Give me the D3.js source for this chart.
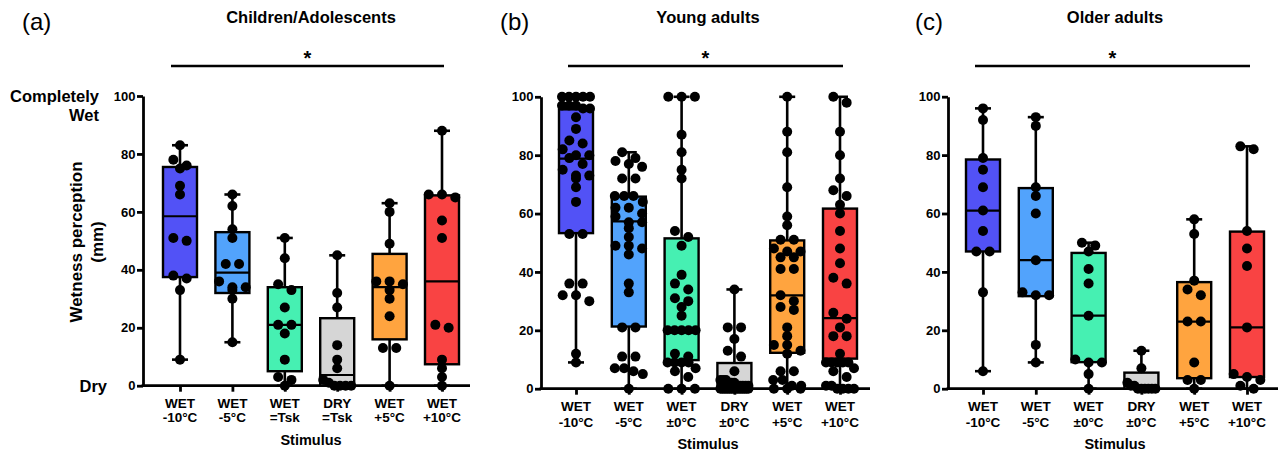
<!DOCTYPE html>
<html><head><meta charset="utf-8">
<script src="https://cdn.jsdelivr.net/npm/d3@7"></script>
<style>
body{margin:0;background:#fff}
svg{display:block}
text{font-family:"Liberation Sans",Arial,Helvetica,sans-serif}
</style>
</head><body>
<svg id="chart" width="1282" height="454"></svg>
<script>
// ---------------- DATA ----------------
const catTopA = ["WET","WET","WET","DRY","WET","WET"];
const catBottomA = ["-10°C","-5°C","=Tsk","=Tsk","+5°C","+10°C"];
const catTopBC = ["WET","WET","WET","DRY","WET","WET"];
const catBottomBC = ["-10°C","-5°C","±0°C","±0°C","+5°C","+10°C"];
const yTickValues = [0,20,40,60,80,100];
const boxColors = ["#5252f6","#52a3fc","#46f0b2","#d6d6d6","#ffa43f","#f94343"];
const panelTitles = ["Children/Adolescents","Young adults","Older adults"];
const panelLetters = ["(a)","(b)","(c)"];

// individual responses (mm)
const childrenValues = [
  [83,78,76,75,69,66,51,50,38,37,33,9],
  [66,62,54,51,42,42,36,34,34,33,30,15],
  [51,44,35,33,27,21,21,18,9,3,2,0],
  [45,32,27,14,9,6,2,1,0,0,0,0],
  [63,60,49,36,36,35,33,30,24,13,13,0],
  [88,66,66,65,57,51,21,20,9,6,3,0]
];
// [Q1, median, Q3]
const childrenBoxes = [[37.5,58.5,75.5],[32,39,53],[5,21,34],[0,3.7,23.3],[16,34,45.5],[7.4,36,65.7]];

const youngValues = [
  [100,100,100,100,100,97,97,97,96,96,93,89,85,84,82,80,80,79,77,75,73,73,72,69,64,53,53,36,36,32,32,30,12,9],
  [81,79,78,77,76,72,72,66,66,66,64,62,62,60,59,57,57,55,52,49,49,48,46,36,33,21,21,11,11,7,7,6,5,0],
  [100,100,100,87,81,75,72,54,52,49,39,36,34,31,30,28,25,20,20,20,20,20,12,11,9,9,9,9,7,6,4,0,0,0],
  [34,21,21,17,13,11,6,3,3,3,2,2,2,1,1,1,1,1,0,0,0,0,0,0,0,0,0,0,0,0,0,0,0,0],
  [100,88,81,69,59,56,51,51,48,47,47,45,45,41,41,32,30,28,27,21,18,15,15,13,12,6,6,3,3,1,1,0,0,0],
  [100,98,88,80,72,68,66,63,60,54,48,43,38,36,26,24,21,18,18,12,9,9,9,9,9,7,6,4,1,1,0,0,0,0]
];
const youngBoxes = [[53.3,78.8,95.7],[21.3,57.3,65.8],[9.8,20,51.5],[0,1,8.8],[12.3,32,50.8],[10.3,24.2,61.7]];

const olderValues = [
  [96,92,79,75,69,61,54,47,47,33,6],
  [93,90,69,66,60,44,33,32,32,15,9],
  [50,49,47,41,36,25,10,9,9,5,0],
  [13,7,2,1,1,0,0,0,0,0,0],
  [58,53,37,34,32,23,23,9,3,3,0],
  [83,82,54,48,42,21,5,4,3,1,0]
];
const olderBoxes = [[47,61,78.5],[31.7,44,68.7],[9.1,25,46.5],[0,1,5.5],[3.6,23,36.5],[4,21,53.8]];

// ---------------- LAYOUT ----------------
const layout = [
  {axisX:143, axisEnd:470, firstX:180, lastX:442, yTop:96,   yBot:385.7, letterX:22,  sigX0:171, sigX1:444, l1:22, l2:36.5, stim:59.5},
  {axisX:541, axisEnd:870, firstX:576, lastX:840, yTop:96.8, yBot:388.7, letterX:500, sigX0:568, sigX1:843, l1:22, l2:38, stim:60.5},
  {axisX:948, axisEnd:1278,firstX:983, lastX:1247,yTop:96.7, yBot:388.7, letterX:915, sigX0:975, sigX1:1250,l1:22, l2:38, stim:60.5}
];
const panelsData = [
  {values:childrenValues, boxes:childrenBoxes, top:catTopA, bottom:catBottomA},
  {values:youngValues, boxes:youngBoxes, top:catTopBC, bottom:catBottomBC},
  {values:olderValues, boxes:olderBoxes, top:catTopBC, bottom:catBottomBC}
];

const svg = d3.select("#chart");
svg.append("rect").attr("width",1282).attr("height",454).attr("fill","#fff");

const R = 5, BOXW = 34, CAPW = 16, AXW = 2.8;

function dotLayout(vals, y, cx){
  const sorted = vals.slice().sort((a,b)=>b-a);
  const rows = [];
  sorted.forEach(v=>{
    const py = y(v);
    const last = rows[rows.length-1];
    if(last && py - last.y0 < 8) last.items.push(v);
    else rows.push({y0:py, items:[v]});
  });
  const out = [];
  rows.forEach(r=>{
    const n = r.items.length;
    const step = n <= 3 ? 13.3 : 28/(n-1);
    r.items.forEach((v,i)=>out.push({x: cx + (i-(n-1)/2)*step, y: y(v)}));
  });
  return out;
}

panelsData.forEach((pd, p)=>{
  const L = layout[p];
  const g = svg.append("g");
  const keys = pd.top.map((t,i)=>t+" "+pd.bottom[i]);
  const x = d3.scalePoint().domain(keys).range([L.firstX, L.lastX]);
  const y = d3.scaleLinear().domain([0,100]).range([L.yBot, L.yTop]);
  const cMid = (L.firstX + L.lastX)/2;

  // y axis
  const ya = g.append("g").attr("transform",`translate(${L.axisX},0)`)
    .call(d3.axisLeft(y).tickValues(yTickValues).tickSize(6).tickSizeOuter(0).tickPadding(1.5));
  ya.select(".domain").attr("stroke","#000").attr("stroke-width",AXW);
  ya.selectAll(".tick line").attr("stroke","#000").attr("stroke-width",AXW);
  ya.selectAll(".tick text").attr("font-size",13).attr("font-weight","bold").attr("fill","#000")
    .style("font-family",'"Liberation Sans",Arial,sans-serif');

  // x axis
  const xa = g.append("g").attr("transform",`translate(0,${L.yBot})`)
    .call(d3.axisBottom(x).tickSize(6).tickSizeOuter(0).tickFormat(""));
  xa.select(".domain").remove();
  xa.selectAll(".tick line").attr("stroke","#000").attr("stroke-width",AXW);
  g.append("line").attr("x1",L.axisX-AXW/2).attr("x2",L.axisEnd).attr("y1",L.yBot).attr("y2",L.yBot)
    .attr("stroke","#000").attr("stroke-width",AXW);

  // category labels
  keys.forEach((k,i)=>{
    const t = g.append("text").attr("text-anchor","middle").attr("font-size",13.5).attr("font-weight","bold");
    t.append("tspan").attr("x",x(k)).attr("y",L.yBot+L.l1).text(pd.top[i]);
    t.append("tspan").attr("x",x(k)).attr("y",L.yBot+L.l2).text(pd.bottom[i]);
  });
  g.append("text").attr("x",cMid).attr("y",L.yBot+L.stim).attr("text-anchor","middle")
    .attr("font-size",14.5).attr("font-weight","bold").text("Stimulus");

  // title + letter
  g.append("text").attr("x",cMid).attr("y",23).attr("text-anchor","middle")
    .attr("font-size",16.5).attr("font-weight","bold").text(panelTitles[p]);
  g.append("text").attr("x",L.letterX).attr("y",30).attr("font-size",24).text(panelLetters[p]);

  // significance bar
  g.append("line").attr("x1",L.sigX0).attr("x2",L.sigX1).attr("y1",66).attr("y2",66)
    .attr("stroke","#000").attr("stroke-width",2.5);
  g.append("text").attr("x",(L.sigX0+L.sigX1)/2).attr("y",65).attr("text-anchor","middle")
    .attr("font-size",20).attr("font-weight","bold").text("*");

  // boxes
  keys.forEach((k,i)=>{
    const cx = x(k);
    const vals = pd.values[i];
    const [q1,med,q3] = pd.boxes[i];
    const [mn,mx] = d3.extent(vals);
    g.append("line").attr("x1",cx).attr("x2",cx).attr("y1",y(mn)).attr("y2",y(mx))
      .attr("stroke","#000").attr("stroke-width",2.6);
    [mn,mx].forEach(v=>g.append("line").attr("x1",cx-CAPW/2).attr("x2",cx+CAPW/2)
      .attr("y1",y(v)).attr("y2",y(v)).attr("stroke","#000").attr("stroke-width",2.6));
    g.append("rect").attr("x",cx-BOXW/2).attr("y",y(q3)).attr("width",BOXW).attr("height",Math.max(0,y(q1)-y(q3)))
      .attr("fill",boxColors[i]).attr("stroke","#000").attr("stroke-width",2.4);
    g.append("line").attr("x1",cx-BOXW/2).attr("x2",cx+BOXW/2).attr("y1",y(med)).attr("y2",y(med))
      .attr("stroke","#000").attr("stroke-width",2.2);
    g.selectAll(null).data(dotLayout(vals,y,cx)).enter().append("circle")
      .attr("cx",d=>d.x).attr("cy",d=>d.y).attr("r",R).attr("fill","#000");
  });

  if(p===0){
    const lab = g.append("text").attr("text-anchor","end").attr("font-size",16.5).attr("font-weight","bold");
    lab.append("tspan").attr("x",99).attr("y",102).text("Completely");
    lab.append("tspan").attr("x",99).attr("y",121).text("Wet");
    g.append("text").attr("x",107).attr("y",392).attr("text-anchor","end")
      .attr("font-size",16.5).attr("font-weight","bold").text("Dry");
    const yt = g.append("text").attr("transform","translate(0,242) rotate(-90)")
      .attr("text-anchor","middle").attr("font-size",17).attr("font-weight","bold");
    yt.append("tspan").attr("x",0).attr("y",82).text("Wetness perception");
    yt.append("tspan").attr("x",0).attr("y",103).text("(mm)");
  }
});
</script>
</body></html>
